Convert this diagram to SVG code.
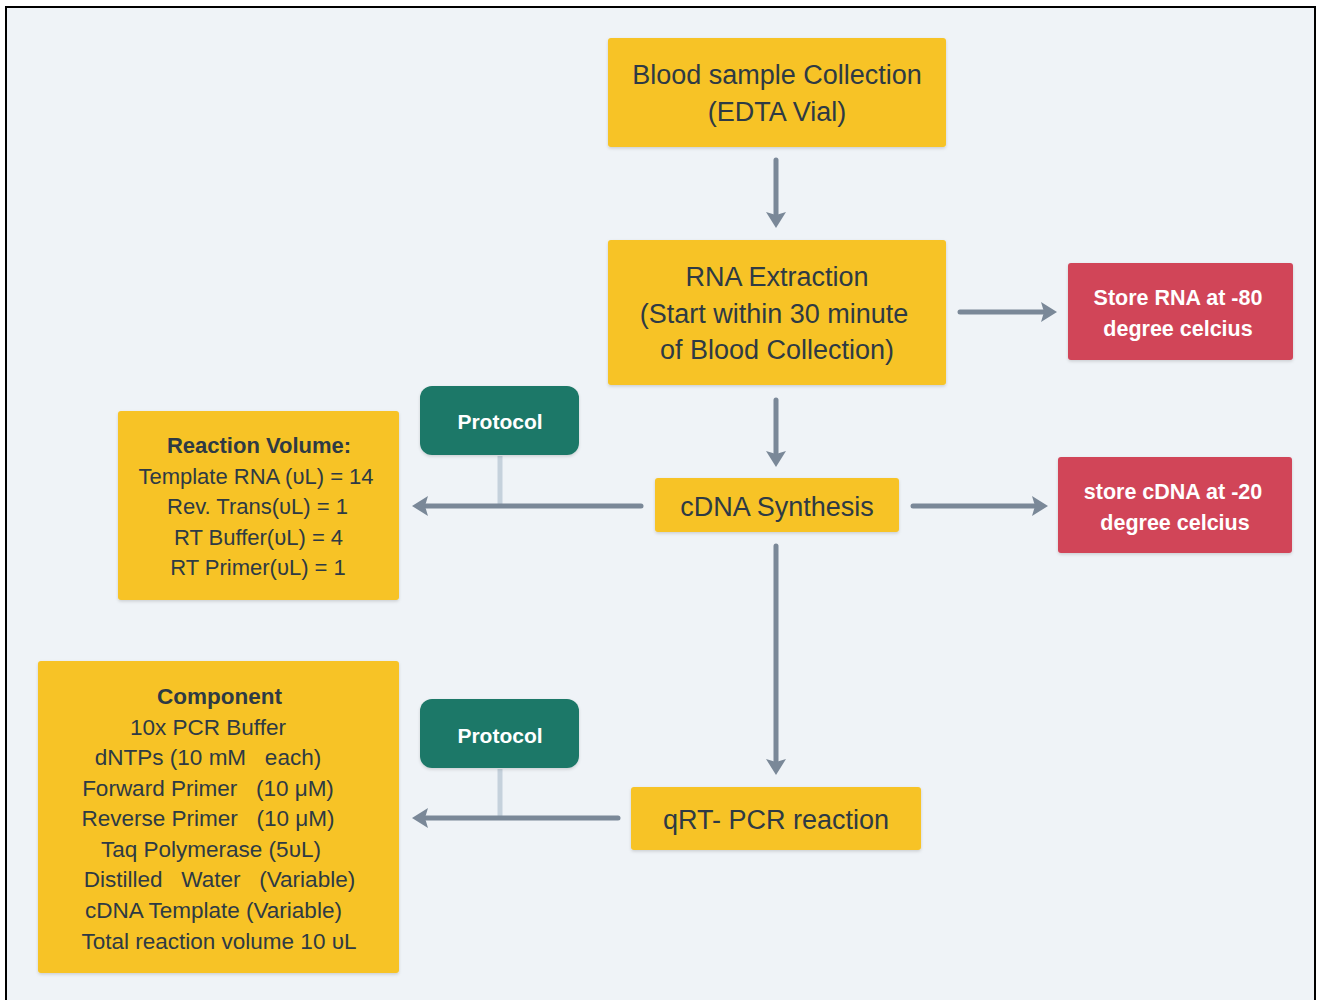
<svg xmlns="http://www.w3.org/2000/svg" width="1317" height="1000" viewBox="0 0 1317 1000">
<defs>
<style>
.y{fill:#f7c325}
.r{fill:#d14459}
.g{fill:#1f7867}
.t{font-family:"Liberation Sans",Arial,sans-serif;fill:#2e3a44;text-anchor:middle}
.big{font-size:27px}
.mid{font-size:22px;white-space:pre}
.cm{font-size:22.5px;white-space:pre}
.w{font-family:"Liberation Sans",Arial,sans-serif;fill:#ffffff;font-weight:bold;text-anchor:middle}
.a{stroke:#7a8898;stroke-width:5;stroke-linecap:round;fill:none}
.s{stroke:#c5d1dc;stroke-width:5;fill:none}
</style>
<marker id="ah" viewBox="0 0 16 20" refX="2" refY="10" markerWidth="16" markerHeight="20" markerUnits="userSpaceOnUse" orient="auto">
<path d="M0,0 L16,10 L0,20 L3,10 z" fill="#7a8898"/>
</marker>
<filter id="sh" x="-10%" y="-10%" width="120%" height="130%">
<feDropShadow dx="0" dy="1.5" stdDeviation="1.5" flood-color="#000" flood-opacity="0.15"/>
</filter>
</defs>
<rect x="0" y="0" width="1317" height="1000" fill="#ffffff"/>
<rect x="6" y="7" width="1309" height="1010" fill="#eff3f7" stroke="#000" stroke-width="2"/>

<g id="connectors">
<line class="s" x1="500" y1="456" x2="500" y2="504"/>
<line class="s" x1="500" y1="769" x2="500" y2="818"/>
<line class="a" x1="776" y1="160" x2="776" y2="214" marker-end="url(#ah)"/>
<line class="a" x1="960" y1="312" x2="1043" y2="312" marker-end="url(#ah)"/>
<line class="a" x1="776" y1="400" x2="776" y2="453" marker-end="url(#ah)"/>
<line class="a" x1="913" y1="506" x2="1034" y2="506" marker-end="url(#ah)"/>
<line class="a" x1="641" y1="506" x2="426" y2="506" marker-end="url(#ah)"/>
<line class="a" x1="776" y1="546" x2="776" y2="761" marker-end="url(#ah)"/>
<line class="a" x1="618" y1="818" x2="426" y2="818" marker-end="url(#ah)"/>
</g>

<g id="blood">
<rect class="y" x="608" y="38" width="338" height="109" rx="3" filter="url(#sh)"/>
<text class="t big" x="777" y="83.5">Blood sample Collection</text>
<text class="t big" x="777" y="120.5">(EDTA Vial)</text>
</g>

<g id="rna">
<rect class="y" x="608" y="240" width="338" height="145" rx="3" filter="url(#sh)"/>
<text class="t big" x="777" y="285.5">RNA Extraction</text>
<text class="t big" x="774" y="322.5">(Start within 30 minute</text>
<text class="t big" x="777" y="358.5">of Blood Collection)</text>
</g>

<g id="storeRna">
<rect class="r" x="1068" y="263" width="225" height="97" rx="3" filter="url(#sh)"/>
<text class="w" x="1178" y="304.5" font-size="21.5">Store RNA at -80</text>
<text class="w" x="1178" y="335.5" font-size="21.5">degree celcius</text>
</g>

<g id="cdna">
<rect class="y" x="655" y="478" width="244" height="54" rx="3" filter="url(#sh)"/>
<text class="t big" x="777" y="515.5">cDNA Synthesis</text>
</g>

<g id="storeCdna">
<rect class="r" x="1058" y="457" width="234" height="96" rx="3" filter="url(#sh)"/>
<text class="w" x="1173" y="498.5" font-size="21.5">store cDNA at -20</text>
<text class="w" x="1175" y="529.5" font-size="21.5">degree celcius</text>
</g>

<g id="protocol1">
<rect class="g" x="420" y="386" width="159" height="69" rx="12" filter="url(#sh)"/>
<text class="w" x="500" y="428.5" font-size="21">Protocol</text>
</g>

<g id="reaction">
<rect class="y" x="118" y="411" width="281" height="189" rx="3" filter="url(#sh)"/>
<text class="t mid" x="259" y="453" font-weight="bold">Reaction Volume:</text>
<text class="t mid" x="256" y="484">Template RNA (υL) = 14</text>
<text class="t mid" x="257.5" y="514">Rev. Trans(υL) = 1</text>
<text class="t mid" x="258.5" y="545">RT Buffer(υL) = 4</text>
<text class="t mid" x="258" y="575">RT Primer(υL) = 1</text>
</g>

<g id="protocol2">
<rect class="g" x="420" y="699" width="159" height="69" rx="12" filter="url(#sh)"/>
<text class="w" x="500" y="742.5" font-size="21">Protocol</text>
</g>

<g id="qrt">
<rect class="y" x="631" y="787" width="290" height="63" rx="3" filter="url(#sh)"/>
<text class="t big" x="776" y="828.5">qRT- PCR reaction</text>
</g>

<g id="component">
<rect class="y" x="38" y="661" width="361" height="312" rx="3" filter="url(#sh)"/>
<text class="t cm" x="219.5" y="704" font-weight="bold">Component</text>
<text class="t cm" x="208" y="735">10x PCR Buffer</text>
<text class="t cm" x="208" y="765">dNTPs (10 mM   each)</text>
<text class="t cm" x="208" y="796">Forward Primer   (10 μM)</text>
<text class="t cm" x="208" y="826">Reverse Primer   (10 μM)</text>
<text class="t cm" x="211" y="857">Taq Polymerase (5υL)</text>
<text class="t cm" x="219.5" y="887">Distilled   Water   (Variable)</text>
<text class="t cm" x="213.5" y="918">cDNA Template (Variable)</text>
<text class="t cm" x="219" y="949">Total reaction volume 10 υL</text>
</g>
</svg>
